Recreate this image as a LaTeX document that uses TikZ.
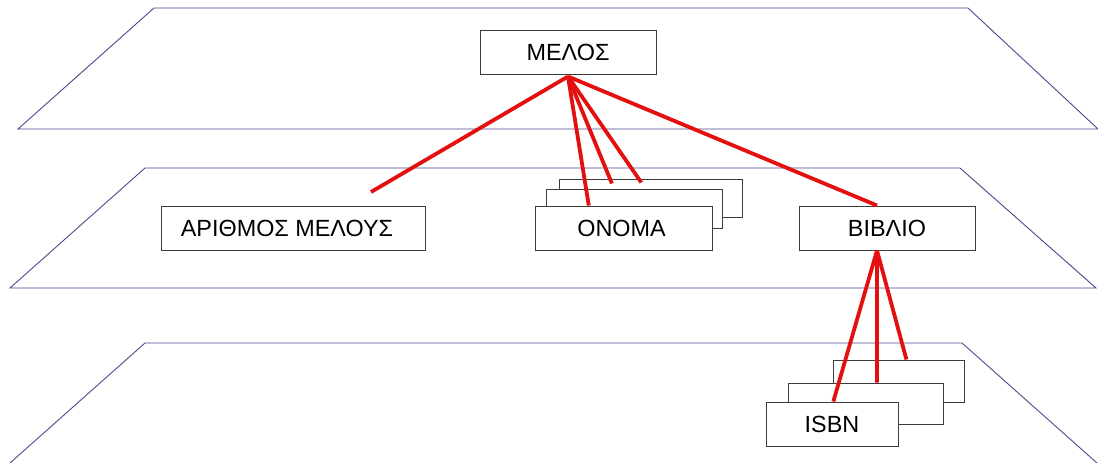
\documentclass[tikz,border=0pt]{standalone}
\usepackage{fontspec}
\setmainfont{Liberation Sans}
\usetikzlibrary{calc}
\definecolor{planeline}{RGB}{72,72,140}
\definecolor{boxline}{RGB}{60,60,60}
\definecolor{linkred}{RGB}{228,16,16}
\tikzset{
  plane/.style={draw=planeline, line width=0.9pt, line join=miter},
  entity/.style={draw=boxline, fill=white, line width=1pt, inner sep=0pt,
    font=\fontsize{23.4}{27}\selectfont},
  link/.style={draw=linkred, line width=3.8pt}
}
\begin{document}
\begin{tikzpicture}[x=1pt, y=-1pt]
\useasboundingbox (0,0) rectangle (1098,463);

% three layer planes
\draw[plane] (18,129) -- (154,8) -- (968,8) -- (1098,129) -- cycle;
\draw[plane] (10,288) -- (145,168) -- (960,168) -- (1096,288) -- cycle;
\draw[plane] (10,463) -- (145,343) -- (962,343) -- (1097,463);

% top level entity
\node[entity, minimum width=176pt, minimum height=44pt] (melos) at (568,52) {ΜΕΛΟΣ};

% middle level
\node[entity, minimum width=264pt, minimum height=44pt] (arith) at (293,228) {ΑΡΙΘΜΟΣ ΜΕΛΟΥΣ\hspace*{12pt}};
\node[entity, minimum width=183pt, minimum height=38pt] (onoma3) at (650.5,198) {};
\node[entity, minimum width=176pt, minimum height=39pt] (onoma2) at (634,208.5) {};
\node[entity, minimum width=177pt, minimum height=44pt] (onoma1) at (623.5,228) {ΟΝΟΜΑ\hspace*{4pt}};
\node[entity, minimum width=176pt, minimum height=44pt] (biblio) at (887,228) {ΒΙΒΛΙΟ};

% bottom level
\node[entity, minimum width=131pt, minimum height=42pt] (isbn3) at (898.5,381) {};
\node[entity, minimum width=155pt, minimum height=41pt] (isbn2) at (865.5,403.5) {};
\node[entity, minimum width=132pt, minimum height=44pt] (isbn1) at (832,424) {ISBN};

% free end of the link towards the member number
\coordinate (arithend) at (371,192);

% links
\draw[link] ($(melos.south)+(0,2)$) -- (arithend);
\draw[link] ($(melos.south)+(0,2)$) -- ($(onoma1.north west)!0.305!(onoma1.north east)$);
\draw[link] ($(melos.south)+(0,2)$) -- ($(onoma2.north west)!0.375!(onoma2.north east)+(0,-5)$);
\draw[link] ($(melos.south)+(0,2)$) -- ($(onoma3.north west)!0.45!(onoma3.north east)+(0,4)$);
\draw[link] ($(melos.south)+(0,2)$) -- ($(biblio.north)+(-10,0)$);

\draw[link] ($(biblio.south)+(-10,0)$) -- ($(isbn1.north west)!0.51!(isbn1.north east)$);
\draw[link] ($(biblio.south)+(-10,0)$) -- ($(isbn2.north west)!0.574!(isbn2.north east)$);
\draw[link] ($(biblio.south)+(-10,0)$) -- ($(isbn3.north west)!0.56!(isbn3.north east)$);
\end{tikzpicture}
\end{document}
